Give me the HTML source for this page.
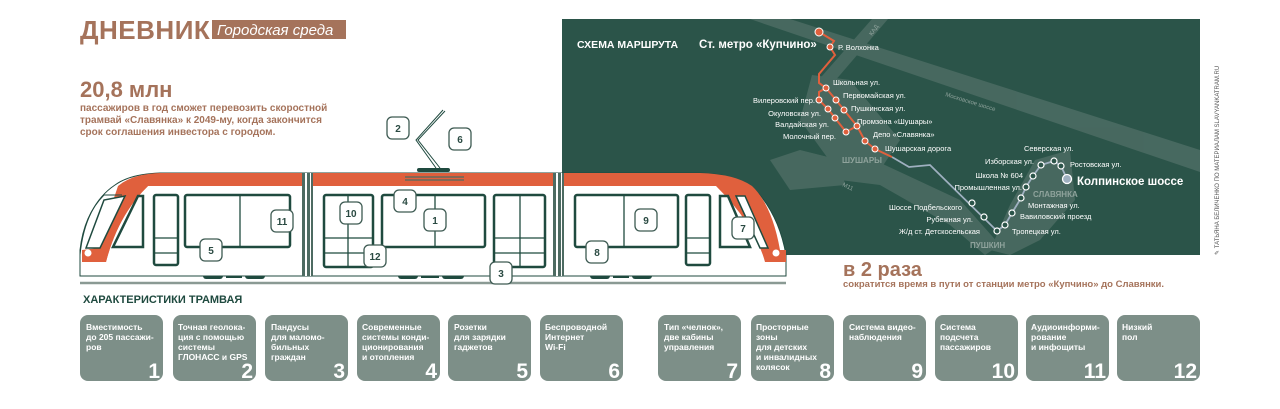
<!DOCTYPE html>
<html><head><meta charset="utf-8"><style>
html,body{margin:0;padding:0;background:#fff}
svg{display:block}
text{font-family:"Liberation Sans","DejaVu Sans",sans-serif}
.m{fill:#fff;font-size:7.5px}
.c{fill:#fff;font-size:8.5px;font-weight:bold}
.n{fill:#fff;font-size:21px;font-weight:bold;text-anchor:end}
.b{fill:#fff;stroke:#3d5a52;stroke-width:1.3}
.bt{fill:#2a4a42;font-size:10px;font-weight:bold;text-anchor:middle}
.w{fill:none;stroke:#1f4a3f;stroke-width:2.5}
</style></head><body>
<svg width="1280" height="409" viewBox="0 0 1280 409" xmlns="http://www.w3.org/2000/svg">
<rect width="1280" height="409" fill="#fff"/>
<!-- header -->
<text x="80" y="39" font-size="26" font-weight="bold" fill="#a5735b" letter-spacing="0.5">ДНЕВНИК</text>
<rect x="212" y="20" width="134" height="19" fill="#a5735b"/>
<text x="217" y="35" font-size="15" font-style="italic" fill="#fff" font-family="Liberation Serif,serif">Городская среда</text>
<text x="80" y="97" font-size="22" font-weight="bold" fill="#a5735b">20,8 млн</text>
<g font-size="10" font-weight="bold" fill="#a5735b">
<text x="80" y="111">пассажиров в год сможет перевозить скоростной</text>
<text x="80" y="123">трамвай «Славянка» к 2049-му, когда закончится</text>
<text x="80" y="135">срок соглашения инвестора с городом.</text>
</g>
<!-- map -->
<rect x="562" y="19" width="638" height="236" fill="#2b5449"/>
<g fill="#5f7a72" opacity="0.55">
<polygon points="750,19 790,19 1200,150 1200,172"/>
<polygon points="872,19 888,19 822,96 808,92"/>
<polygon points="812,75 850,80 900,140 880,170 840,175 800,120"/>
<polygon points="840,160 870,158 960,200 1000,245 985,255 950,225 880,185 800,175 790,165"/>
<polygon points="1035,160 1070,150 1075,200 1040,240 1010,255 990,250 1010,205"/>
<polygon points="770,160 800,150 840,160 845,185 790,190"/>
</g>
<polyline points="892,157 909,167 930,165 997,231 1005,225 1012,213 1021,198 1026,187 1033,176 1041,165 1054,161 1061,166 1067,179" fill="none" stroke="#9fb0c0" stroke-width="1.8"/>
<polyline points="819,32 834,41 830,47 835,55 819,74 819,83 826,88 836,100 844,110 857,126 865,141 875,149 892,157" fill="none" stroke="#e0603d" stroke-width="2"/>
<polyline points="826,88 819,92 819,100 828,109 835,118 846,132 857,126" fill="none" stroke="#e0603d" stroke-width="2"/>
<g fill="#e0603d" stroke="#fff" stroke-width="1">
<circle cx="819" cy="32" r="4"/><circle cx="830" cy="47" r="3"/><circle cx="826" cy="88" r="3"/><circle cx="836" cy="100" r="3"/><circle cx="844" cy="110" r="3"/><circle cx="819" cy="100" r="3"/><circle cx="828" cy="109" r="3"/><circle cx="835" cy="118" r="3"/><circle cx="846" cy="132" r="3"/><circle cx="857" cy="126" r="3"/><circle cx="865" cy="141" r="3"/><circle cx="875" cy="149" r="3"/>
</g>
<g fill="#2b5449" stroke="#fff" stroke-width="1.2">
<circle cx="972" cy="203" r="3"/><circle cx="984" cy="217" r="3"/><circle cx="997" cy="231" r="3"/><circle cx="1005" cy="225" r="3"/><circle cx="1012" cy="213" r="3"/><circle cx="1021" cy="198" r="3"/><circle cx="1026" cy="187" r="3"/><circle cx="1033" cy="176" r="3"/><circle cx="1041" cy="165" r="3"/><circle cx="1054" cy="161" r="3"/><circle cx="1061" cy="166" r="3"/>
</g>
<circle cx="1067" cy="179" r="4.5" fill="#9fb0c0" stroke="#fff" stroke-width="1.3"/>
<text x="577" y="48" font-size="10.5" font-weight="bold" fill="#fff">СХЕМА МАРШРУТА</text>
<text x="699" y="48" font-size="11.5" font-weight="bold" fill="#fff">Ст. метро «Купчино»</text>
<text x="838" y="50" class="m">Р. Волхонка</text>
<text x="833" y="85" class="m">Школьная ул.</text>
<text x="843" y="98" class="m">Первомайская ул.</text>
<text x="851" y="111" class="m">Пушкинская ул.</text>
<text x="857" y="124" class="m">Промзона «Шушары»</text>
<text x="873" y="137" class="m">Депо «Славянка»</text>
<text x="885" y="151" class="m">Шушарская дорога</text>
<g>
<text x="815" y="103" class="m" text-anchor="end">Вилеровский пер.</text>
<text x="821" y="116" class="m" text-anchor="end">Окуловская ул.</text>
<text x="829" y="127" class="m" text-anchor="end">Валдайская ул.</text>
<text x="836" y="139" class="m" text-anchor="end">Молочный пер.</text>
<text x="1034" y="164" class="m" text-anchor="end">Изборская ул.</text>
<text x="1023" y="178" class="m" text-anchor="end">Школа № 604</text>
<text x="1022" y="190" class="m" text-anchor="end">Промышленная ул.</text>
<text x="962" y="210" class="m" text-anchor="end">Шоссе Подбельского</text>
<text x="973" y="222" class="m" text-anchor="end">Рубежная ул.</text>
<text x="980" y="234" class="m" text-anchor="end">Ж/д ст. Детскосельская</text>
</g>
<text x="1024" y="151" class="m">Северская ул.</text>
<text x="1070" y="167" class="m">Ростовская ул.</text>
<text x="1028" y="208" class="m">Монтажная ул.</text>
<text x="1020" y="219" class="m">Вавиловский проезд</text>
<text x="1012" y="234" class="m">Тропецкая ул.</text>
<text x="1077" y="185" font-size="11.5" font-weight="bold" fill="#fff">Колпинское шоссе</text>
<g font-size="8" font-weight="bold" fill="#8fa39c">
<text x="842" y="163">ШУШАРЫ</text><text x="1033" y="197">СЛАВЯНКА</text><text x="970" y="248">ПУШКИН</text>
</g>
<text transform="translate(945,96) rotate(17)" font-size="6" fill="#8fa39c">Московское шоссе</text>
<text transform="translate(872,36) rotate(-55)" font-size="6" fill="#8fa39c">КАД</text>
<text transform="translate(842,186) rotate(25)" font-size="6" fill="#8fa39c">М11</text>
<text transform="translate(1219,255) rotate(-90)" font-size="6" fill="#555">✎ ТАТЬЯНА БЕЛИЧЕНКО ПО МАТЕРИАЛАМ SLAVYANKATRAM.RU</text>
<!-- tram -->
<line x1="80" y1="283" x2="786" y2="283" stroke="#8a9a94" stroke-width="2.5"/>
<g fill="#1f4a3f">
<rect x="203" y="272" width="20" height="7" rx="3"/><rect x="226" y="274" width="16" height="4"/><rect x="245" y="272" width="20" height="7" rx="3"/>
<rect x="398" y="272" width="20" height="7" rx="3"/><rect x="421" y="274" width="18" height="4"/><rect x="442" y="272" width="22" height="7" rx="3"/>
<rect x="590" y="272" width="20" height="7" rx="3"/><rect x="613" y="274" width="16" height="4"/><rect x="632" y="272" width="20" height="7" rx="3"/>
</g>
<path d="M80,276 L80,255 Q85,205 115,185 Q130,174 160,173 L700,173 Q740,174 760,195 Q780,220 786,255 L786,276 Z" fill="#fff" stroke="#1f4a3f" stroke-width="1"/>
<!-- roof band -->
<path d="M118,186 Q132,174 160,173 L700,173 Q735,174 752,186 Z" fill="#e0603d"/>
<!-- left front diagonal band -->
<path d="M118,186 L148,186 Q118,215 106,262 L82,262 L82,250 L99,248 Q108,215 118,186 Z" fill="#e0603d"/>
<path d="M124,186 L148,186 Q118,215 106,262 L90,262 Q100,220 124,186 Z" fill="#e0603d"/>
<!-- right front diagonal band -->
<path d="M716,186 L752,186 Q772,205 780,250 L786,250 L786,262 L765,262 Q755,225 716,186 Z" fill="#e0603d"/>
<path d="M80,255 L80,250 Q84,215 104,195 L122,195" fill="none" stroke="#1f4a3f" stroke-width="1"/>
<polygon points="86,248 104,200 125,196 100,248" fill="#fff" stroke="#1f4a3f" stroke-width="1.5"/>
<polygon points="113,247 138,196 143,196 143,247" fill="#fff" stroke="#1f4a3f" stroke-width="2.5"/>
<polygon points="720,196 728,196 750,247 720,247" fill="#fff" stroke="#1f4a3f" stroke-width="2.5"/>
<polygon points="736,196 745,196 768,248 760,248" fill="#fff" stroke="#1f4a3f" stroke-width="1.5"/>
<circle cx="88" cy="253" r="3.5" fill="#fff"/><circle cx="776" cy="253" r="3.5" fill="#fff"/>
<rect x="302" y="173" width="11" height="103" fill="#fff"/>
<rect x="553" y="173" width="11" height="103" fill="#fff"/>
<g fill="#4d6b62"><rect x="302" y="173" width="3" height="103"/><rect x="307" y="173" width="3" height="103"/><rect x="311" y="173" width="2" height="103"/>
<rect x="553" y="173" width="3" height="103"/><rect x="558" y="173" width="3" height="103"/><rect x="562" y="173" width="2" height="103"/></g>
<g class="w">
<rect x="154" y="195" width="24" height="70" rx="2"/><line x1="154" y1="238" x2="178" y2="238" stroke-width="1.3"/><line x1="154" y1="253" x2="178" y2="253" stroke-width="1.3"/>
<rect x="185" y="195" width="105" height="52" rx="2"/><line x1="240" y1="195" x2="240" y2="247" stroke-width="1.3"/>
<rect x="324" y="195" width="49" height="72" rx="2"/><line x1="348" y1="195" x2="348" y2="267" stroke-width="1.3"/><line x1="324" y1="238" x2="373" y2="238" stroke-width="1.3"/><line x1="324" y1="253" x2="373" y2="253" stroke-width="1.3"/>
<rect x="382" y="195" width="103" height="52" rx="2"/><line x1="435" y1="195" x2="435" y2="247" stroke-width="1.3"/>
<rect x="494" y="195" width="51" height="72" rx="2"/><line x1="520" y1="195" x2="520" y2="267" stroke-width="1.3"/><line x1="494" y1="238" x2="545" y2="238" stroke-width="1.3"/><line x1="494" y1="253" x2="545" y2="253" stroke-width="1.3"/>
<rect x="575" y="195" width="103" height="52" rx="2"/><line x1="624" y1="195" x2="624" y2="247" stroke-width="1.3"/>
<rect x="686" y="195" width="24" height="70" rx="2"/><line x1="686" y1="238" x2="710" y2="238" stroke-width="1.3"/><line x1="686" y1="253" x2="710" y2="253" stroke-width="1.3"/>
</g>
<line x1="405" y1="177" x2="464" y2="177" stroke="#4d6b62" stroke-width="1.3"/><line x1="405" y1="180" x2="464" y2="180" stroke="#4d6b62" stroke-width="1.3"/>
<rect x="417" y="168" width="33" height="4" rx="2" fill="#1f4a3f"/>
<polyline points="436,168 416,140 443,110" fill="none" stroke="#1f4a3f" stroke-width="1"/>
<polyline points="440,168 418,140 445,111" fill="none" stroke="#1f4a3f" stroke-width="1"/>
<g>
<rect class="b" x="387" y="117" width="22" height="22" rx="5"/><text class="bt" x="398" y="132">2</text>
<rect class="b" x="449" y="128" width="22" height="22" rx="5"/><text class="bt" x="460" y="143">6</text>
<rect class="b" x="271" y="210" width="22" height="22" rx="5"/><text class="bt" x="282" y="225">11</text>
<rect class="b" x="340" y="202" width="22" height="22" rx="5"/><text class="bt" x="351" y="217">10</text>
<rect class="b" x="394" y="190" width="22" height="22" rx="5"/><text class="bt" x="405" y="205">4</text>
<rect class="b" x="424" y="209" width="22" height="22" rx="5"/><text class="bt" x="435" y="224">1</text>
<rect class="b" x="364" y="245" width="22" height="22" rx="5"/><text class="bt" x="375" y="260">12</text>
<rect class="b" x="200" y="239" width="22" height="22" rx="5"/><text class="bt" x="211" y="254">5</text>
<rect class="b" x="490" y="262" width="22" height="22" rx="5"/><text class="bt" x="501" y="277">3</text>
<rect class="b" x="635" y="209" width="22" height="22" rx="5"/><text class="bt" x="646" y="224">9</text>
<rect class="b" x="586" y="241" width="22" height="22" rx="5"/><text class="bt" x="597" y="256">8</text>
<rect class="b" x="732" y="217" width="22" height="22" rx="5"/><text class="bt" x="743" y="232">7</text>
</g>
<!-- в 2 раза -->
<text x="843" y="276" font-size="20" font-weight="bold" fill="#a5735b">в 2 раза</text>
<text x="843" y="287" font-size="9.5" font-weight="bold" fill="#a5735b">сократится время в пути от станции метро «Купчино» до Славянки.</text>
<text x="83" y="303" font-size="11" font-weight="bold" fill="#1f4a3f">ХАРАКТЕРИСТИКИ ТРАМВАЯ</text>
<!-- cards -->
<g fill="#7d8f88">
<rect x="80" y="315" width="83" height="66" rx="8"/><rect x="173" y="315" width="83" height="66" rx="8"/><rect x="265" y="315" width="83" height="66" rx="8"/><rect x="357" y="315" width="83" height="66" rx="8"/><rect x="448" y="315" width="83" height="66" rx="8"/><rect x="540" y="315" width="83" height="66" rx="8"/>
<rect x="658" y="315" width="83" height="66" rx="8"/><rect x="751" y="315" width="83" height="66" rx="8"/><rect x="843" y="315" width="83" height="66" rx="8"/><rect x="935" y="315" width="83" height="66" rx="8"/><rect x="1026" y="315" width="83" height="66" rx="8"/><rect x="1117" y="315" width="83" height="66" rx="8"/>
</g>
<g>
<text class="c" x="86" y="330">Вместимость</text><text class="c" x="86" y="340">до 205 пассажи-</text><text class="c" x="86" y="350">ров</text>
<text class="c" x="178" y="330">Точная геолока-</text><text class="c" x="178" y="340">ция с помощью</text><text class="c" x="178" y="350">системы</text><text class="c" x="178" y="360">ГЛОНАСС и GPS</text>
<text class="c" x="271" y="330">Пандусы</text><text class="c" x="271" y="340">для маломо-</text><text class="c" x="271" y="350">бильных</text><text class="c" x="271" y="360">граждан</text>
<text class="c" x="362" y="330">Современные</text><text class="c" x="362" y="340">системы конди-</text><text class="c" x="362" y="350">ционирования</text><text class="c" x="362" y="360">и отопления</text>
<text class="c" x="454" y="330">Розетки</text><text class="c" x="454" y="340">для зарядки</text><text class="c" x="454" y="350">гаджетов</text>
<text class="c" x="545" y="330">Беспроводной</text><text class="c" x="545" y="340">Интернет</text><text class="c" x="545" y="350">Wi-Fi</text>
<text class="c" x="664" y="330">Тип «челнок»,</text><text class="c" x="664" y="340">две кабины</text><text class="c" x="664" y="350">управления</text>
<text class="c" x="756" y="330">Просторные</text><text class="c" x="756" y="340">зоны</text><text class="c" x="756" y="350">для детских</text><text class="c" x="756" y="360">и инвалидных</text><text class="c" x="756" y="370">колясок</text>
<text class="c" x="849" y="330">Система видео-</text><text class="c" x="849" y="340">наблюдения</text>
<text class="c" x="940" y="330">Система</text><text class="c" x="940" y="340">подсчета</text><text class="c" x="940" y="350">пассажиров</text>
<text class="c" x="1031" y="330">Аудиоинформи-</text><text class="c" x="1031" y="340">рование</text><text class="c" x="1031" y="350">и инфощиты</text>
<text class="c" x="1122" y="330">Низкий</text><text class="c" x="1122" y="340">пол</text>
</g>
<g>
<text class="n" x="160" y="378">1</text><text class="n" x="253" y="378">2</text><text class="n" x="345" y="378">3</text><text class="n" x="437" y="378">4</text><text class="n" x="528" y="378">5</text><text class="n" x="620" y="378">6</text>
<text class="n" x="738" y="378">7</text><text class="n" x="831" y="378">8</text><text class="n" x="923" y="378">9</text><text class="n" x="1015" y="378">10</text><text class="n" x="1106" y="378">11</text><text class="n" x="1197" y="378">12</text>
</g>
</svg>
</body></html>
